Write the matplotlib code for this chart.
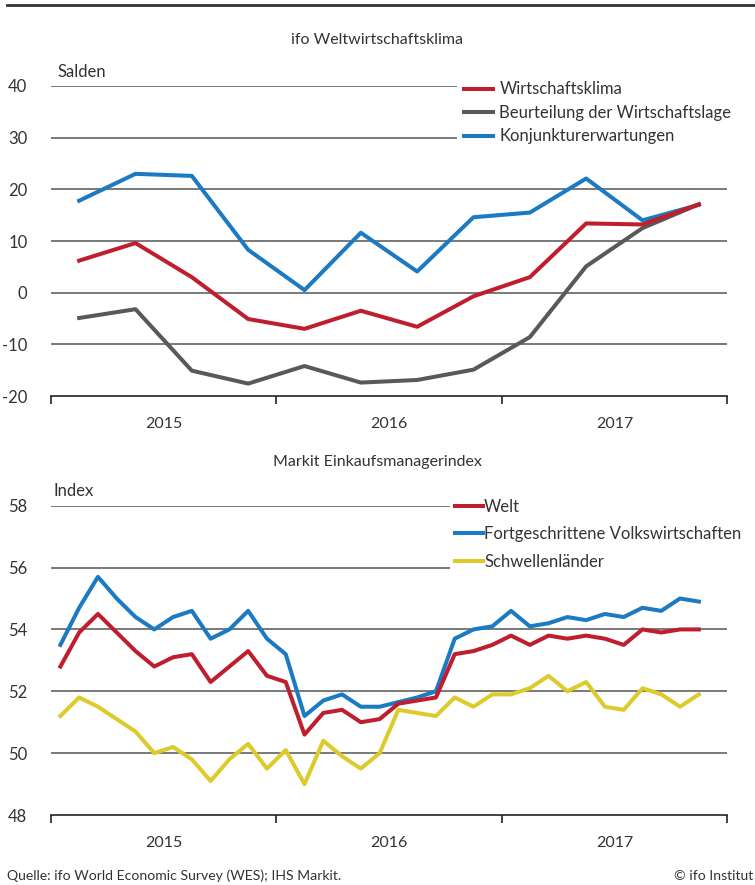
import matplotlib
matplotlib.use("Agg")
import matplotlib.pyplot as plt
import numpy as np

plt.rcParams["font.family"] = ["Lato", "DejaVu Sans"]
plt.rcParams["axes.unicode_minus"] = False

# ── data ──
quarters = ["Q1 2015", "Q2 2015", "Q3 2015", "Q4 2015",
            "Q1 2016", "Q2 2016", "Q3 2016", "Q4 2016",
            "Q1 2017", "Q2 2017", "Q3 2017", "Q4 2017"]
wirtschaftsklima = [6.2, 9.6, 3.0, -5.1, -7.0, -3.5, -6.6, -0.7, 3.0, 13.4, 13.2, 17.1]
beurteilung = [-4.9, -3.2, -15.1, -17.6, -14.2, -17.4, -16.9, -14.9, -8.6, 5.1, 12.5, 17.1]
erwartungen = [17.8, 23.0, 22.6, 8.3, 0.5, 11.6, 4.1, 14.6, 15.5, 22.1, 14.0, 17.0]

months = [f"{m:02d}/{y}" for y in (2015, 2016, 2017) for m in range(1, 13)][:35]
welt = [52.8, 53.9, 54.5, 53.9, 53.3, 52.8, 53.1, 53.2, 52.3, 52.8, 53.3, 52.5,
        52.3, 50.6, 51.3, 51.4, 51.0, 51.1, 51.6, 51.7, 51.8, 53.2, 53.3, 53.5,
        53.8, 53.5, 53.8, 53.7, 53.8, 53.7, 53.5, 54.0, 53.9, 54.0, 54.0]
fortgeschritten = [53.5, 54.7, 55.7, 55.0, 54.4, 54.0, 54.4, 54.6, 53.7, 54.0, 54.6, 53.7,
                   53.2, 51.2, 51.7, 51.9, 51.5, 51.5, 51.65, 51.8, 52.0, 53.7, 54.0, 54.1,
                   54.6, 54.1, 54.2, 54.4, 54.3, 54.5, 54.4, 54.7, 54.6, 55.0, 54.9]
schwellen = [51.2, 51.8, 51.5, 51.1, 50.7, 50.0, 50.2, 49.8, 49.1, 49.8, 50.3, 49.5,
             50.1, 49.0, 50.4, 49.9, 49.5, 50.0, 51.4, 51.3, 51.2, 51.8, 51.5, 51.9,
             51.9, 52.1, 52.5, 52.0, 52.3, 51.5, 51.4, 52.1, 51.9, 51.5, 51.9]

years = [2015, 2016, 2017]

RED = "#be1e2d"
GRAY = "#595959"
BLUE = "#1b7ac2"
YELLOW = "#dccb2a"
TXT = "#333333"

W, H = 755, 885
fig = plt.figure(figsize=(W / 100, H / 100), dpi=100)


def px_axes(x0, y_top, x1, y_bot):
    return fig.add_axes([x0 / W, 1 - y_bot / H, (x1 - x0) / W, (y_bot - y_top) / H])


def style_axes(ax, yticks):
    for s in ("left", "right", "top"):
        ax.spines[s].set_visible(False)
    ax.spines["bottom"].set_color("#222222")
    ax.spines["bottom"].set_linewidth(1.2)
    ax.set_xlim(2015, 2018)
    ax.set_xticks([2015, 2016, 2017, 2018])
    ax.set_xticklabels([])
    ax.set_xticks([y + 0.5 for y in years], minor=True)
    ax.set_xticklabels([str(y) for y in years], minor=True)
    ax.tick_params(axis="x", which="major", length=6, width=1.2, color="#222222", direction="out")
    ax.tick_params(axis="x", which="minor", length=0, pad=15, labelsize=11.5, labelcolor=TXT)
    ax.set_yticks(yticks)
    ax.tick_params(axis="y", length=0, pad=17, labelsize=12, labelcolor=TXT)
    for v in yticks[1:]:
        ax.axhline(v, color="#555555", lw=1.1, zorder=1)


# ── top panel ──
ax1 = px_axes(51, 86, 727, 396)
x_q = [2015 + (i + 0.5) / 4 for i in range(len(quarters))]
ax1.plot(x_q, wirtschaftsklima, color=RED, lw=2.9, label="Wirtschaftsklima", zorder=5)
ax1.plot(x_q, beurteilung, color=GRAY, lw=2.9, label="Beurteilung der Wirtschaftslage", zorder=4)
ax1.plot(x_q, erwartungen, color=BLUE, lw=2.9, label="Konjunkturerwartungen", zorder=3)
ax1.set_ylim(-20, 40)
style_axes(ax1, [-20, -10, 0, 10, 20, 30, 40])
h, l = ax1.get_legend_handles_labels()
leg1 = ax1.legend(h, l, loc="upper left", bbox_to_anchor=(457 / W, 1 - 74 / H),
                  bbox_transform=fig.transFigure, frameon=True, facecolor="white",
                  edgecolor="none", framealpha=1, fancybox=False, fontsize=12,
                  handlelength=1.7, handletextpad=0.4, labelspacing=0.45,
                  borderpad=0.45, borderaxespad=0)
leg1.set_zorder(10)
for t in leg1.get_texts():
    t.set_color(TXT)

# ── bottom panel ──
ax2 = px_axes(51, 505.7, 727, 815)
x_m = [2015 + (i + 0.5) / 12 for i in range(len(months))]
ax2.plot(x_m, welt, color=RED, lw=2.9, label="Welt", zorder=5)
ax2.plot(x_m, fortgeschritten, color=BLUE, lw=2.9, label="Fortgeschrittene Volkswirtschaften", zorder=4)
ax2.plot(x_m, schwellen, color=YELLOW, lw=2.9, label="Schwellenländer", zorder=3)
ax2.set_ylim(48, 58)
style_axes(ax2, [48, 50, 52, 54, 56, 58])
h, l = ax2.get_legend_handles_labels()
leg2 = ax2.legend(h, l, loc="upper left", bbox_to_anchor=(450 / W, 1 - 494 / H),
                  bbox_transform=fig.transFigure, frameon=True, facecolor="white",
                  edgecolor="none", framealpha=1, fancybox=False, fontsize=12,
                  handlelength=1.7, handletextpad=0.05, labelspacing=0.68,
                  borderpad=0.3, borderaxespad=0)
leg2.set_zorder(10)
for t in leg2.get_texts():
    t.set_color(TXT)

# ── texts ──
fig.add_artist(plt.Line2D([7 / W, 1], [1 - 5 / H, 1 - 5 / H], color="#333333", lw=2))
fig.text(377 / W, 1 - 40 / H, "ifo Weltwirtschaftsklima", ha="center", va="center",
         fontsize=11.5, color=TXT)
fig.text(57 / W, 1 - 72 / H, "Salden", ha="left", va="center", fontsize=12, color=TXT)
fig.text(377 / W, 1 - 462 / H, "Markit Einkaufsmanagerindex", ha="center", va="center",
         fontsize=11.5, color=TXT)
fig.text(53 / W, 1 - 491 / H, "Index", ha="left", va="center", fontsize=12, color=TXT)
fig.text(7 / W, 1 - 876 / H, "Quelle: ifo World Economic Survey (WES); IHS Markit.",
         ha="left", va="center", fontsize=10.1, color=TXT)
fig.text(1 - 2 / W, 1 - 876 / H, "© ifo Institut", ha="right", va="center",
         fontsize=10.1, color=TXT)

fig.savefig("out.png", dpi=100)
